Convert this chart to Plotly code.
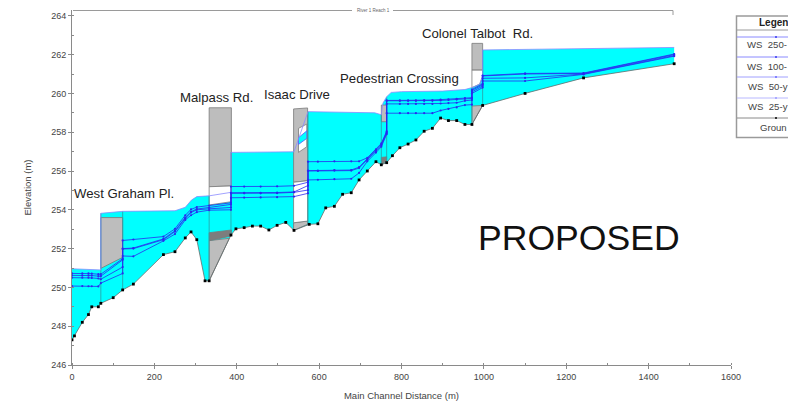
import plotly.graph_objects as go

# ---------- data ----------
ground_x = [0, 6, 25, 40, 48, 64, 70, 100, 123, 149, 222, 250, 275, 289, 303, 323, 333, 386, 398, 418, 438, 458, 478, 498, 519, 539, 576, 597, 616, 637, 657, 678, 697, 717, 738, 751, 764, 778, 796, 816, 835, 855, 875, 895, 914, 934, 954, 971, 997, 1100, 1242, 1462]
ground_y = [247.3, 247.5, 248.2, 248.6, 249.0, 249.0, 249.18, 249.47, 249.87, 250.17, 251.69, 251.84, 252.55, 252.86, 252.46, 250.34, 250.34, 252.7, 253.02, 253.08, 253.16, 253.16, 252.96, 253.2, 253.35, 252.94, 253.25, 253.28, 254.1, 254.18, 254.8, 254.88, 255.54, 256.0, 256.48, 256.32, 256.43, 256.79, 257.2, 257.39, 257.6, 258.05, 258.2, 258.73, 258.6, 258.6, 258.4, 258.4, 259.38, 260.0, 260.8, 261.53]

top_x = [0, 70, 70, 123, 250, 275, 290, 303, 333, 386, 386, 539, 573, 700, 735, 751, 755, 764, 775, 800, 900, 954, 971, 990, 997, 997, 1462]
top_y = [250.96, 250.9, 253.82, 253.92, 253.95, 254.13, 254.5, 254.68, 254.72, 254.9, 256.96, 256.99, 259.06, 259.04, 259.0, 258.9, 259.5, 259.83, 260.05, 260.09, 260.12, 260.2, 260.3, 260.48, 260.9, 262.24, 262.37]

ws_x = [0, 25, 40, 48, 64, 70, 123, 123, 149, 222, 250, 275, 289, 303, 333, 386, 386, 418, 458, 498, 539, 573, 573, 597, 637, 678, 697, 717, 738, 751, 764, 764, 796, 816, 835, 855, 875, 895, 914, 934, 954, 971, 971, 997, 997, 1100, 1242, 1462]
ws_250 = [250.72, 250.72, 250.72, 250.71, 250.68, 250.68, 251.48, 252.42, 252.47, 252.62, 253.02, 253.72, 254.02, 254.14, 254.22, 254.36, 255.2, 255.2, 255.2, 255.21, 255.24, 255.42, 256.48, 256.48, 256.5, 256.5, 256.5, 256.68, 257.12, 257.42, 258.05, 259.64, 259.64, 259.64, 259.64, 259.65, 259.66, 259.68, 259.7, 259.72, 259.76, 259.78, 260.2, 260.5, 260.92, 261.03, 261.05, 262.03]
ws_100 = [250.62, 250.62, 250.62, 250.61, 250.58, 250.58, 251.42, 252.0, 252.03, 252.5, 252.92, 253.6, 253.9, 254.04, 254.12, 254.28, 254.88, 254.88, 254.88, 254.89, 254.92, 255.25, 256.02, 256.02, 256.05, 256.05, 256.2, 256.62, 257.08, 257.38, 258.0, 259.62, 259.62, 259.62, 259.62, 259.62, 259.62, 259.64, 259.66, 259.68, 259.72, 259.74, 260.15, 260.45, 260.9, 261.0, 261.03, 262.0]
ws_50 = [250.5, 250.5, 250.5, 250.49, 250.46, 250.42, 251.05, 251.98, 252.0, 252.46, 252.88, 253.56, 253.86, 254.0, 254.05, 254.12, 254.85, 254.85, 254.85, 254.86, 254.9, 255.02, 256.0, 256.0, 256.02, 256.02, 256.15, 256.58, 257.02, 257.32, 257.95, 259.46, 259.46, 259.46, 259.46, 259.46, 259.46, 259.48, 259.5, 259.52, 259.62, 259.66, 260.08, 260.38, 260.78, 260.8, 261.0, 261.95]
ws_25 = [250.07, 250.07, 250.06, 250.06, 250.05, 250.22, 250.72, 251.62, 251.6, 252.4, 252.75, 253.48, 253.72, 253.88, 253.98, 254.0, 254.62, 254.63, 254.64, 254.65, 254.68, 254.85, 255.54, 255.55, 255.58, 255.6, 255.9, 256.5, 256.95, 257.25, 257.9, 258.98, 258.98, 258.98, 258.98, 258.98, 258.98, 259.12, 259.2, 259.28, 259.4, 259.42, 260.0, 260.3, 260.64, 260.64, 260.98, 261.92]

section_x = [70, 123, 333, 386, 573, 751, 764, 971, 997]
section_low = [249.18, 249.87, 250.34, 252.7, 253.25, 256.32, 256.43, 258.4, 259.38]
section_high = [253.82, 253.92, 254.72, 256.96, 259.06, 258.9, 259.83, 260.3, 262.24]

gray_blocks = [
    ([70, 123, 123, 70], [253.6, 253.6, 251.55, 250.98]),
    ([333, 387, 387, 333], [259.26, 259.26, 255.23, 255.19]),
    ([333, 382, 333], [252.41, 252.53, 250.34]),
    ([538, 572, 572, 538], [259.2, 259.25, 255.5, 255.42]),
    ([538, 572, 572, 538], [253.33, 253.42, 253.25, 252.94]),
    ([751, 764, 764, 751], [259.4, 259.4, 258.54, 258.54]),
    ([971, 997, 997, 971], [262.58, 262.58, 261.2, 261.2]),
    ([971, 997, 971], [259.35, 259.38, 258.4]),
]
dark_blocks = [
    ([333, 387, 387, 333], [252.82, 252.96, 252.65, 252.41]),
    ([751, 764, 764, 751], [256.7, 256.73, 256.5, 256.32]),
]
white_blocks = [
    ([333, 387, 387, 333], [255.19, 255.23, 254.42, 254.25]),
    ([538, 572, 572, 538], [255.42, 255.5, 253.42, 253.33]),
    ([550, 570, 570, 550], [258.2, 258.42, 257.25, 256.96]),
    ([971, 997, 997, 990, 971], [261.2, 261.2, 260.9, 260.48, 260.3]),
]
band_blocks = [
    ([550, 570, 570, 550], [257.72, 258.07, 257.68, 257.37]),
]

labels = ["West Graham Pl.", "Malpass Rd.", "Isaac Drive", "Pedestrian Crossing", "Colonel Talbot  Rd."]
label_px = [(72, 193), (178, 97), (262, 94), (338, 79), (420, 33)]
legend_title = "Legen"
legend_names = ["WS  250-", "WS  100-", "WS  50-y", "WS  25-y", "Groun"]
legend_text_px = [(745, 45), (745, 66), (745.5, 86), (745.5, 107), (758, 127)]
legend_line_py = [37, 57, 77, 98, 118]

W, H = 788, 412
L, R, T, B = 72, 731, 10, 365
px = lambda v: (v - L) / (R - L)
py = lambda v: (B - v) / (B - T)
FONT = "Liberation Sans, Arial, sans-serif"
BLUE = "#2a2af0"

fig = go.Figure()


def poly(xs, ys, fill, line="#7a7a7a", width=0.8):
    fig.add_trace(go.Scatter(x=xs + xs[:1], y=ys + ys[:1], mode="lines", fill="toself", fillcolor=fill,
                             line=dict(color=line, width=width), hoverinfo="skip", showlegend=False))


# water body
fig.add_trace(go.Scatter(x=top_x + ground_x[::-1], y=top_y + ground_y[::-1], mode="lines", fill="toself",
                         fillcolor="#00ffff", line=dict(width=0, color="#00ffff"), showlegend=False))
for xs, ys in gray_blocks:
    poly(xs, ys, "#bdbdbd")
for xs, ys in dark_blocks:
    poly(xs, ys, "#7d7d7d")
for xs, ys in white_blocks:
    poly(xs, ys, "#ffffff")
for xs, ys in band_blocks:
    poly(xs, ys, "#00ffff", line="#5a5aff")

sx, sy = [], []
for a, lo, hi in zip(section_x, section_low, section_high):
    sx += [a, a, None]
    sy += [lo, hi, None]
fig.add_trace(go.Scatter(x=sx, y=sy, mode="lines", line=dict(color="#2f9aa2", width=0.8), showlegend=False))
fig.add_trace(go.Scatter(x=top_x, y=top_y, mode="lines", line=dict(color="#8a8aff", width=0.8), showlegend=False))

for name, ys in zip(legend_names, [ws_250, ws_100, ws_50, ws_25]):
    fig.add_trace(go.Scatter(x=ws_x, y=ys, mode="lines+markers", name=name, showlegend=False,
                             line=dict(color=BLUE, width=0.8), marker=dict(color=BLUE, size=2.2)))

fig.add_trace(go.Scatter(x=ground_x, y=ground_y, mode="lines+markers", name="Ground", showlegend=False,
                         line=dict(color="#6a6a6a", width=0.8),
                         marker=dict(color="black", size=2.8, symbol="square")))

shapes = [
    dict(type="line", xref="paper", yref="paper", x0=px(73), x1=px(352), y0=py(10.5), y1=py(10.5), line=dict(color="#9a9a9a", width=1)),
    dict(type="line", xref="paper", yref="paper", x0=px(393), x1=px(673), y0=py(10.5), y1=py(10.5), line=dict(color="#9a9a9a", width=1)),
    dict(type="line", xref="paper", yref="paper", x0=px(673), x1=px(673), y0=py(10.5), y1=py(15), line=dict(color="#9a9a9a", width=1)),
    dict(type="rect", xref="paper", yref="paper", x0=px(736.5), x1=px(800), y0=py(16), y1=py(137.5), fillcolor="#ffffff", line=dict(color="#9a9a9a", width=1.5)),
    dict(type="line", xref="paper", yref="paper", x0=px(737), x1=px(800), y0=py(30), y1=py(30), line=dict(color="#9a9a9a", width=1)),
]
legend_cols = ["#8a8aff", "#8a8aff", "#a0a0ff", "#b8b8ff", "#8a8a8a"]
legend_dots = ["#3a3af0", "#3a3af0", "#6a6aff", "#9a9aff", "#000000"]
for yy, c, d in zip(legend_line_py, legend_cols, legend_dots):
    shapes.append(dict(type="line", xref="paper", yref="paper", x0=px(737), x1=px(800), y0=py(yy), y1=py(yy), line=dict(color=c, width=1)))
    shapes.append(dict(type="circle", xref="paper", yref="paper", x0=px(775), x1=px(777), y0=py(yy - 1), y1=py(yy + 1), fillcolor=d, line=dict(width=0)))

ann = []
for t, (x, y) in zip(labels, label_px):
    ann.append(dict(text=t, xref="paper", yref="paper", x=px(x), y=py(y), xanchor="left", yanchor="middle",
                    showarrow=False, font=dict(family=FONT, size=13.2, color="#222222")))
ann.append(dict(text="PROPOSED", xref="paper", yref="paper", x=px(476), y=py(238), xanchor="left", yanchor="middle",
                showarrow=False, font=dict(family=FONT, size=35.6, color="#111111")))
ann.append(dict(text="River 1 Reach 1", xref="paper", yref="paper", x=px(373), y=py(11), xanchor="center", yanchor="middle",
                showarrow=False, font=dict(family=FONT, size=4.5, color="#666666")))
ann.append(dict(text="<b>%s</b>" % legend_title, xref="paper", yref="paper", x=px(757), y=py(23), xanchor="left", yanchor="middle",
                showarrow=False, font=dict(family=FONT, size=10, color="#222222")))
for t, (x, y) in zip(legend_names, legend_text_px):
    ann.append(dict(text=t, xref="paper", yref="paper", x=px(x), y=py(y), xanchor="left", yanchor="middle",
                    showarrow=False, font=dict(family=FONT, size=9.6, color="#444444")))

axis_common = dict(showgrid=False, zeroline=False, showline=True, linecolor="#8a8a8a", linewidth=1,
                   ticks="outside", ticklen=3, tickcolor="#8a8a8a", tickfont=dict(family=FONT, size=9, color="#444444"))
fig.update_layout(
    width=W, height=H, autosize=False,
    margin=dict(l=L, r=W - R, t=T, b=H - B, pad=0),
    plot_bgcolor="white", paper_bgcolor="white", showlegend=False,
    shapes=shapes, annotations=ann,
    xaxis=dict(range=[0, 1600], dtick=200, minor=dict(dtick=100, ticks="inside", ticklen=2, tickcolor="#8a8a8a"),
               title=dict(text="Main Channel Distance (m)", font=dict(family=FONT, size=9.5, color="#444444"), standoff=11),
               **axis_common),
    yaxis=dict(range=[246, 264.3], dtick=2, minor=dict(dtick=1, ticks="inside", ticklen=2, tickcolor="#8a8a8a"),
               title=dict(text="Elevation (m)", font=dict(family=FONT, size=9.5, color="#444444"), standoff=17),
               **axis_common),
)
fig.write_html("out.html", config=dict(displayModeBar=False),
               post_script="document.body.style.margin='0';window.dispatchEvent(new Event('resize'));")
